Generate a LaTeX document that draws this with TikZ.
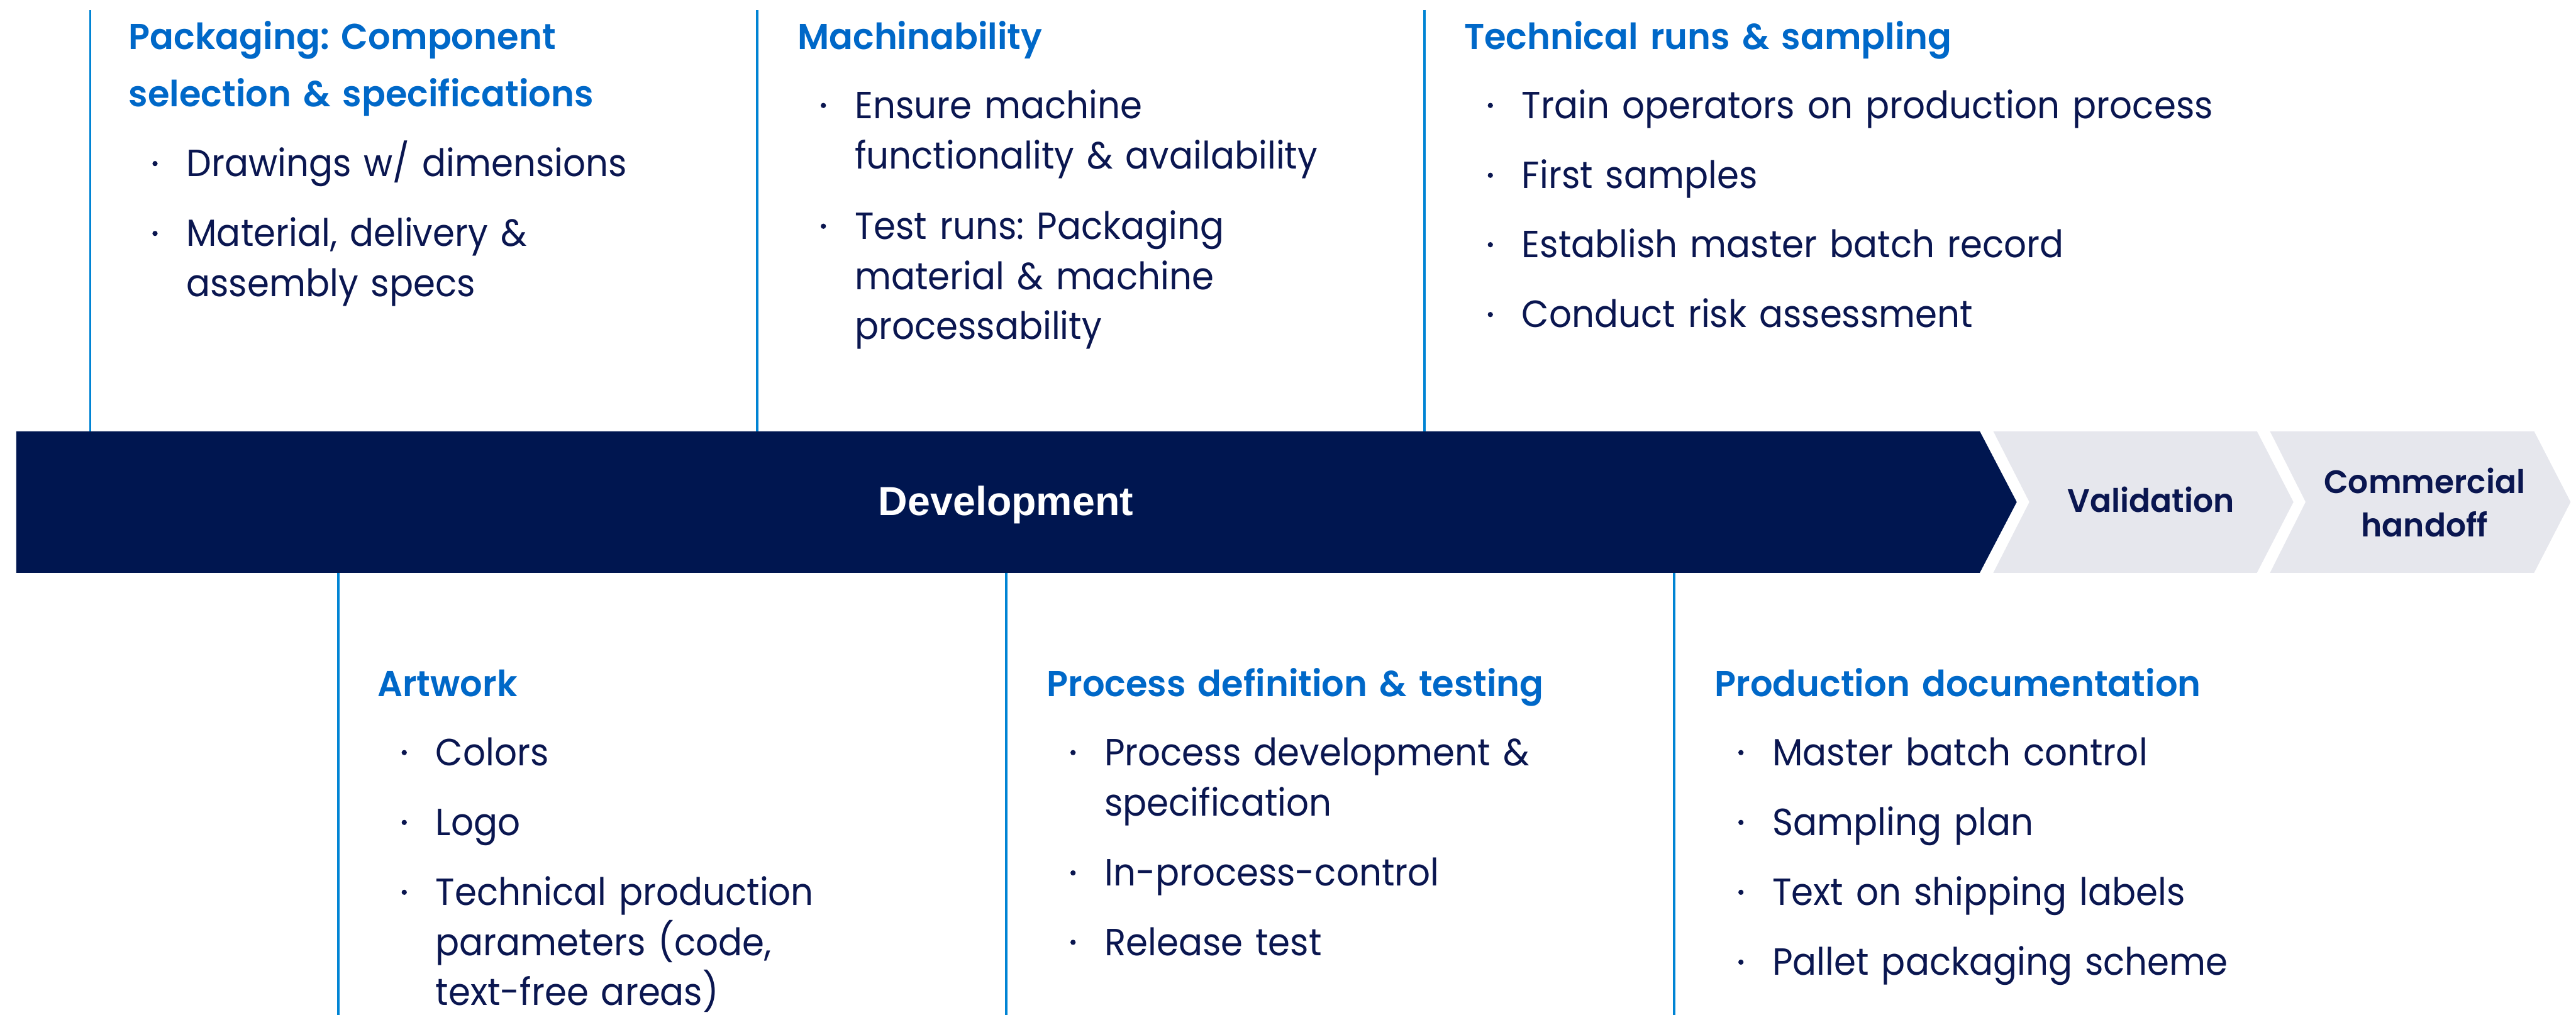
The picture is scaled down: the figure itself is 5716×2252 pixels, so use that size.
\documentclass[tikz,border=0pt]{standalone}
\usepackage{fontspec}
\setmainfont{Poppins}[BoldFont={Poppins SemiBold}, BoldFeatures={FakeStretch=0.975}]
\newfontfamily\bodyfont{Poppins}[FakeStretch=0.935]
\newfontfamily\barfont{Liberation Sans}
\frenchspacing

\definecolor{navy}{RGB}{0,22,80}
\definecolor{ink}{RGB}{10,22,80}
\definecolor{headblue}{RGB}{0,104,200}
\definecolor{rulecol}{RGB}{0,132,212}
\definecolor{pale}{RGB}{230,231,237}

\tikzset{
  head/.style={anchor=base west, inner sep=0pt, text width=500pt, align=left,
    text=headblue, font=\bfseries\fontsize{20}{31.75}\selectfont},
  item/.style={anchor=base west, inner sep=0pt, text width=500pt, align=left,
    text=ink, font=\bodyfont\fontsize{21}{27.75}\selectfont},
  dot/.style={circle, fill=ink, inner sep=0pt, minimum size=2.9pt},
  divider/.style={draw=rulecol, line width=1.25pt},
  stage/.style={fill=pale},
  stagelabel/.style={inner sep=0pt, text=ink, align=center, text width=150pt,
    font=\bfseries\fontsize{18}{24}\selectfont},
}

% bullet point: name, x, baseline y, text
\newcommand\bulletitem[4]{%
  \node[dot] (#1-dot) at (#2-69,#3-29) {};
  \node[item] (#1) at (#2,#3) {#4};}

\begin{document}
\begin{tikzpicture}[x=0.25pt, y=-0.25pt]
  \useasboundingbox (0,0) rectangle (5716,2252);

  % phase arrow
  \fill[navy] (36,957) -- (4393,957) -- (4475,1114) -- (4393,1271) -- (36,1271) -- cycle;
  \fill[stage] (4423,957) -- (5008,957) -- (5089,1114) -- (5008,1271) -- (4423,1271) -- (4503,1114) -- cycle;
  \fill[stage] (5037,957) -- (5623,957) -- (5704,1114) -- (5623,1271) -- (5037,1271) -- (5116,1114) -- cycle;

  \node[inner sep=0pt, anchor=base, text=white, font=\barfont\bfseries\fontsize{22.5}{27}\selectfont]
    (dev) at (2232,1144) {Development};
  \node[stagelabel, anchor=base] (val) at (4773,1137) {Validation};
  \node[stagelabel, anchor=base] (com) at (5380,1095) {Commercial\\handoff};

  % dividers above the arrow
  \foreach \x in {200,1680,3161} \draw[divider] (\x,22) -- (\x,957);
  % dividers below the arrow
  \foreach \x in {751,2233,3715} \draw[divider] (\x,1271) -- (\x,2252);

  % upper columns
  \node[head] (h1) at (285,110) {Packaging: Component\\selection \& specifications};
  \bulletitem{a1}{413}{392}{Drawings w/ dimensions}
  \bulletitem{a2}{413}{547}{Material, delivery \&\\assembly specs}

  \node[head] (h2) at (1769,110) {Machinability};
  \bulletitem{b1}{1896}{263}{Ensure machine\\functionality \& availability}
  \bulletitem{b2}{1896}{531}{Test runs: Packaging\\material \& machine\\processability}

  \node[head] (h3) at (3248,110) {Technical runs \& sampling};
  \bulletitem{c1}{3376}{263}{Train operators on production process}
  \bulletitem{c2}{3376}{418}{First samples}
  \bulletitem{c3}{3376}{572}{Establish master batch record}
  \bulletitem{c4}{3376}{727}{Conduct risk assessment}

  % lower columns
  \node[head] (h4) at (837,1545) {Artwork};
  \bulletitem{d1}{966}{1699}{Colors}
  \bulletitem{d2}{966}{1854}{Logo}
  \bulletitem{d3}{966}{2009}{Technical production\\parameters (code,\\text-free areas)}

  \node[head] (h5) at (2322,1545) {Process definition \& testing};
  \bulletitem{e1}{2450}{1699}{Process development \&\\specification}
  \bulletitem{e2}{2450}{1966}{In-process-control}
  \bulletitem{e3}{2450}{2120}{Release test}

  \node[head] (h6) at (3804,1545) {Production documentation};
  \bulletitem{f1}{3932}{1699}{Master batch control}
  \bulletitem{f2}{3932}{1854}{Sampling plan}
  \bulletitem{f3}{3932}{2009}{Text on shipping labels}
  \bulletitem{f4}{3932}{2164}{Pallet packaging scheme}
\end{tikzpicture}
\end{document}
